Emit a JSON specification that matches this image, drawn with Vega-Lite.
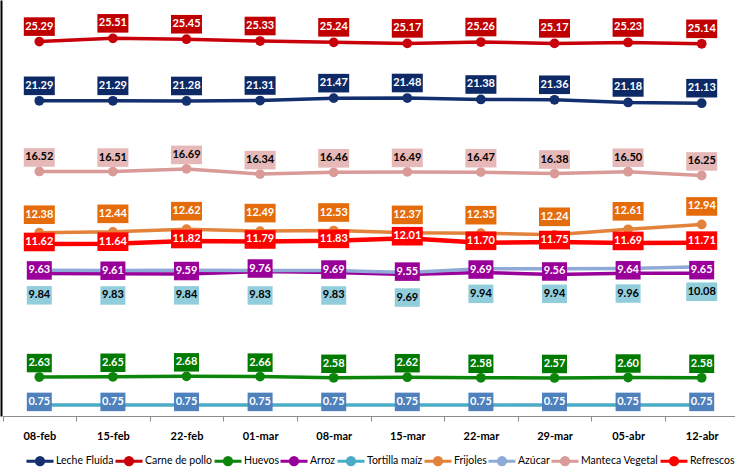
{
  "$schema": "https://vega.github.io/schema/vega-lite/v6.json",
  "width": 734,
  "height": 416,
  "autosize": "none",
  "padding": {"left": 1, "top": 0, "right": 0, "bottom": 54},
  "background": "white",
  "config": {"view": {"stroke": null}, "font": "Lato"},
  "data": {
    "values": [
      {"fecha": "08-feb", "serie": "Leche Fluída", "valor": 21.29},
      {"fecha": "15-feb", "serie": "Leche Fluída", "valor": 21.29},
      {"fecha": "22-feb", "serie": "Leche Fluída", "valor": 21.28},
      {"fecha": "01-mar", "serie": "Leche Fluída", "valor": 21.31},
      {"fecha": "08-mar", "serie": "Leche Fluída", "valor": 21.47},
      {"fecha": "15-mar", "serie": "Leche Fluída", "valor": 21.48},
      {"fecha": "22-mar", "serie": "Leche Fluída", "valor": 21.38},
      {"fecha": "29-mar", "serie": "Leche Fluída", "valor": 21.36},
      {"fecha": "05-abr", "serie": "Leche Fluída", "valor": 21.18},
      {"fecha": "12-abr", "serie": "Leche Fluída", "valor": 21.13},
      {"fecha": "08-feb", "serie": "Carne de pollo", "valor": 25.29},
      {"fecha": "15-feb", "serie": "Carne de pollo", "valor": 25.51},
      {"fecha": "22-feb", "serie": "Carne de pollo", "valor": 25.45},
      {"fecha": "01-mar", "serie": "Carne de pollo", "valor": 25.33},
      {"fecha": "08-mar", "serie": "Carne de pollo", "valor": 25.24},
      {"fecha": "15-mar", "serie": "Carne de pollo", "valor": 25.17},
      {"fecha": "22-mar", "serie": "Carne de pollo", "valor": 25.26},
      {"fecha": "29-mar", "serie": "Carne de pollo", "valor": 25.17},
      {"fecha": "05-abr", "serie": "Carne de pollo", "valor": 25.23},
      {"fecha": "12-abr", "serie": "Carne de pollo", "valor": 25.14},
      {"fecha": "08-feb", "serie": "Huevos", "valor": 2.63},
      {"fecha": "15-feb", "serie": "Huevos", "valor": 2.65},
      {"fecha": "22-feb", "serie": "Huevos", "valor": 2.68},
      {"fecha": "01-mar", "serie": "Huevos", "valor": 2.66},
      {"fecha": "08-mar", "serie": "Huevos", "valor": 2.58},
      {"fecha": "15-mar", "serie": "Huevos", "valor": 2.62},
      {"fecha": "22-mar", "serie": "Huevos", "valor": 2.58},
      {"fecha": "29-mar", "serie": "Huevos", "valor": 2.57},
      {"fecha": "05-abr", "serie": "Huevos", "valor": 2.60},
      {"fecha": "12-abr", "serie": "Huevos", "valor": 2.58},
      {"fecha": "08-feb", "serie": "Arroz", "valor": 9.63},
      {"fecha": "15-feb", "serie": "Arroz", "valor": 9.61},
      {"fecha": "22-feb", "serie": "Arroz", "valor": 9.59},
      {"fecha": "01-mar", "serie": "Arroz", "valor": 9.76},
      {"fecha": "08-mar", "serie": "Arroz", "valor": 9.69},
      {"fecha": "15-mar", "serie": "Arroz", "valor": 9.55},
      {"fecha": "22-mar", "serie": "Arroz", "valor": 9.69},
      {"fecha": "29-mar", "serie": "Arroz", "valor": 9.56},
      {"fecha": "05-abr", "serie": "Arroz", "valor": 9.64},
      {"fecha": "12-abr", "serie": "Arroz", "valor": 9.65},
      {"fecha": "08-feb", "serie": "Tortilla maíz", "valor": 0.75},
      {"fecha": "15-feb", "serie": "Tortilla maíz", "valor": 0.75},
      {"fecha": "22-feb", "serie": "Tortilla maíz", "valor": 0.75},
      {"fecha": "01-mar", "serie": "Tortilla maíz", "valor": 0.75},
      {"fecha": "08-mar", "serie": "Tortilla maíz", "valor": 0.75},
      {"fecha": "15-mar", "serie": "Tortilla maíz", "valor": 0.75},
      {"fecha": "22-mar", "serie": "Tortilla maíz", "valor": 0.75},
      {"fecha": "29-mar", "serie": "Tortilla maíz", "valor": 0.75},
      {"fecha": "05-abr", "serie": "Tortilla maíz", "valor": 0.75},
      {"fecha": "12-abr", "serie": "Tortilla maíz", "valor": 0.75},
      {"fecha": "08-feb", "serie": "Frijoles", "valor": 12.38},
      {"fecha": "15-feb", "serie": "Frijoles", "valor": 12.44},
      {"fecha": "22-feb", "serie": "Frijoles", "valor": 12.62},
      {"fecha": "01-mar", "serie": "Frijoles", "valor": 12.49},
      {"fecha": "08-mar", "serie": "Frijoles", "valor": 12.53},
      {"fecha": "15-mar", "serie": "Frijoles", "valor": 12.37},
      {"fecha": "22-mar", "serie": "Frijoles", "valor": 12.35},
      {"fecha": "29-mar", "serie": "Frijoles", "valor": 12.24},
      {"fecha": "05-abr", "serie": "Frijoles", "valor": 12.61},
      {"fecha": "12-abr", "serie": "Frijoles", "valor": 12.94},
      {"fecha": "08-feb", "serie": "Azúcar", "valor": 9.84},
      {"fecha": "15-feb", "serie": "Azúcar", "valor": 9.83},
      {"fecha": "22-feb", "serie": "Azúcar", "valor": 9.84},
      {"fecha": "01-mar", "serie": "Azúcar", "valor": 9.83},
      {"fecha": "08-mar", "serie": "Azúcar", "valor": 9.83},
      {"fecha": "15-mar", "serie": "Azúcar", "valor": 9.69},
      {"fecha": "22-mar", "serie": "Azúcar", "valor": 9.94},
      {"fecha": "29-mar", "serie": "Azúcar", "valor": 9.94},
      {"fecha": "05-abr", "serie": "Azúcar", "valor": 9.96},
      {"fecha": "12-abr", "serie": "Azúcar", "valor": 10.08},
      {"fecha": "08-feb", "serie": "Manteca Vegetal", "valor": 16.52},
      {"fecha": "15-feb", "serie": "Manteca Vegetal", "valor": 16.51},
      {"fecha": "22-feb", "serie": "Manteca Vegetal", "valor": 16.69},
      {"fecha": "01-mar", "serie": "Manteca Vegetal", "valor": 16.34},
      {"fecha": "08-mar", "serie": "Manteca Vegetal", "valor": 16.46},
      {"fecha": "15-mar", "serie": "Manteca Vegetal", "valor": 16.49},
      {"fecha": "22-mar", "serie": "Manteca Vegetal", "valor": 16.47},
      {"fecha": "29-mar", "serie": "Manteca Vegetal", "valor": 16.38},
      {"fecha": "05-abr", "serie": "Manteca Vegetal", "valor": 16.50},
      {"fecha": "12-abr", "serie": "Manteca Vegetal", "valor": 16.25},
      {"fecha": "08-feb", "serie": "Refrescos", "valor": 11.62},
      {"fecha": "15-feb", "serie": "Refrescos", "valor": 11.64},
      {"fecha": "22-feb", "serie": "Refrescos", "valor": 11.82},
      {"fecha": "01-mar", "serie": "Refrescos", "valor": 11.79},
      {"fecha": "08-mar", "serie": "Refrescos", "valor": 11.83},
      {"fecha": "15-mar", "serie": "Refrescos", "valor": 12.01},
      {"fecha": "22-mar", "serie": "Refrescos", "valor": 11.70},
      {"fecha": "29-mar", "serie": "Refrescos", "valor": 11.75},
      {"fecha": "05-abr", "serie": "Refrescos", "valor": 11.69},
      {"fecha": "12-abr", "serie": "Refrescos", "valor": 11.71}
    ]
  },
  "encoding": {
    "x": {
      "field": "fecha",
      "type": "ordinal",
      "sort": ["08-feb", "15-feb", "22-feb", "01-mar", "08-mar", "15-mar", "22-mar", "29-mar", "05-abr", "12-abr"],
      "scale": {"type": "band", "range": [1.5, 737.5], "paddingInner": 0, "paddingOuter": 0},
      "axis": {
        "title": null,
        "labelAngle": 0,
        "labelFont": "Lato",
        "labelFontWeight": "bold",
        "labelFontSize": 11,
        "labelColor": "black",
        "domainColor": "#8c8c8c",
        "tickColor": "#8c8c8c",
        "tickSize": 5,
        "tickBand": "extent",
        "labelPadding": 9,
        "grid": false
      }
    },
    "y": {
      "field": "valor",
      "type": "quantitative",
      "scale": {"domain": [0, 28.1], "nice": false, "zero": true},
      "axis": {"title": null, "labels": false, "ticks": false, "grid": false, "domainColor": "black", "domainWidth": 2}
    }
  },
  "layer": [
    {
      "mark": {"type": "line", "strokeCap": "round", "strokeJoin": "round"},
      "encoding": {
        "color": {
          "field": "serie",
          "type": "nominal",
          "scale": {
            "domain": ["Leche Fluída", "Carne de pollo", "Huevos", "Arroz", "Tortilla maíz", "Frijoles", "Azúcar", "Manteca Vegetal", "Refrescos"],
            "range": ["#142F6E", "#C8000A", "#0B860B", "#990099", "#4BACC6", "#E3823A", "#8FAAD6", "#D99A98", "#FF0000"]
          },
          "legend": {
            "orient": "none",
            "legendX": 32,
            "legendY": 454,
            "direction": "horizontal",
            "title": null,
            "padding": 0,
            "symbolType": "M-2.6,0H2.6M0.7,0A0.7,0.7 0 1,1 -0.7,0A0.7,0.7 0 1,1 0.7,0Z",
            "symbolSize": 108,
            "symbolStrokeWidth": 3,
            "labelFont": "Lato",
            "labelFontSize": 10.5,
            "labelColor": "black",
            "labelOffset": 9,
            "columnPadding": -5,
            "encode": {"symbols": {"update": {"fill": {"field": "value", "scale": "color"}, "stroke": {"field": "value", "scale": "color"}, "opacity": {"value": 1}}}}
          }
        },
        "strokeWidth": {"condition": {"test": "datum.serie === 'Refrescos'", "value": 4.5}, "value": 3.5}
      }
    },
    {
      "mark": {"type": "point", "filled": true, "opacity": 1},
      "encoding": {
        "color": {"field": "serie", "type": "nominal"},
        "size": {"condition": {"test": "datum.serie === 'Refrescos'", "value": 200}, "value": 95}
      }
    },
    {
      "mark": {
        "type": "point",
        "filled": true,
        "opacity": 1,
        "yOffset": {"expr": "[-15,-15,-14,-3,-3,-18,25,-14,-2][indexof(['Leche Fluída','Carne de pollo','Huevos','Arroz','Tortilla maíz','Frijoles','Azúcar','Manteca Vegetal','Refrescos'], datum.serie)]"}
      },
      "encoding": {
        "fill": {
          "field": "serie",
          "type": "nominal",
          "scale": {
            "domain": ["Leche Fluída", "Carne de pollo", "Huevos", "Arroz", "Tortilla maíz", "Frijoles", "Azúcar", "Manteca Vegetal", "Refrescos"],
            "range": ["#0E2A66", "#C00000", "#007A00", "#990099", "#4F81BD", "#E46C0A", "#92CDDC", "#E6B9B8", "#FF0000"]
          },
          "legend": null
        },
        "shape": {"condition": {"test": "datum.valor >= 10", "value": "M-1,-0.6H1V0.6H-1Z"}, "value": "M-1,-0.74H1V0.74H-1Z"},
        "size": {"condition": {"test": "datum.valor >= 10", "value": 961}, "value": 625}
      }
    },
    {
      "mark": {
        "type": "text",
        "font": "Lato",
        "fontWeight": "bold",
        "fontSize": 11,
        "baseline": "middle",
        "dy": {"expr": "[-15,-15,-14,-3,-3,-18,25,-14,-2][indexof(['Leche Fluída','Carne de pollo','Huevos','Arroz','Tortilla maíz','Frijoles','Azúcar','Manteca Vegetal','Refrescos'], datum.serie)]"}
      },
      "encoding": {
        "text": {"field": "valor", "type": "quantitative", "format": ".2f"},
        "color": {"condition": {"test": "datum.serie === 'Azúcar' || datum.serie === 'Manteca Vegetal'", "value": "black"}, "value": "white"}
      }
    }
  ]
}
